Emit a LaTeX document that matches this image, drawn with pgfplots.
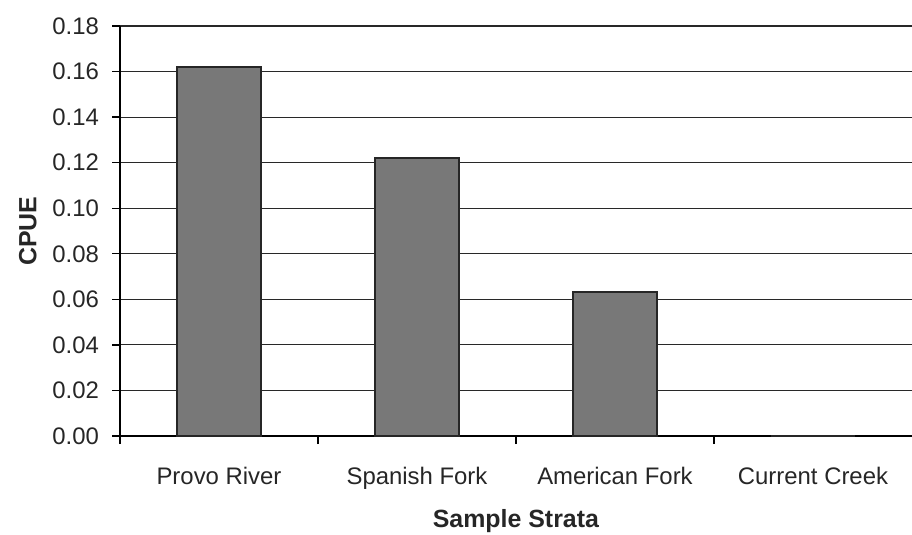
\documentclass[border=0pt]{standalone}
\usepackage{fontspec}
\setmainfont{Liberation Sans}
\usepackage{pgfplots}
\pgfplotsset{compat=1.18}
\definecolor{barfill}{RGB}{120,120,120}
\definecolor{gridc}{RGB}{40,40,40}
\begin{document}
\begin{tikzpicture}
\useasboundingbox (0,0) rectangle (456bp,267.5bp);
\begin{axis}[
  at={(60bp,49.5bp)}, anchor=south west,
  scale only axis,
  width=396bp, height=205bp,
  xmin=-0.5, xmax=3.5,
  ymin=0, ymax=0.18,
  axis lines*=left,
  axis line style={-, black, line width=0.7bp},
  xtick={0,1,2,3},
  xticklabels={Provo River, Spanish Fork, American Fork, Current Creek},
  major x tick style={draw=none},
  minor xtick={-0.5,0.5,1.5,2.5},
  minor x tick style={black, line width=0.7bp},
  minor tick length=4bp,
  ytick={0,0.02,...,0.18},
  major tick length=4bp,
  tick align=outside,
  y tick style={black, line width=0.7bp},
  ymajorgrids,
  grid style={gridc, line width=0.6bp},
  /pgf/number format/assume math mode=true,
  yticklabel style={/pgf/number format/fixed, /pgf/number format/fixed zerofill, /pgf/number format/precision=2, xshift=-3bp},
  scaled y ticks=false,
  ticklabel style={font=\fontsize{12}{14}\selectfont, text=black!85},
  xticklabel style={yshift=-8bp},
  xlabel={\textbf{Sample Strata}},
  ylabel={\textbf{CPUE}},
  label style={font=\fontsize{12.5}{14}\selectfont, text=black!85},
  xlabel style={yshift=-3bp},
  ylabel style={yshift=1bp},
  clip=false,
]
\addplot[ybar, bar width=42bp, fill=barfill, draw=black!85, line width=1bp]
  coordinates {(0,0.162) (1,0.122) (2,0.063) (3,0)};
\end{axis}
\end{tikzpicture}
\end{document}
